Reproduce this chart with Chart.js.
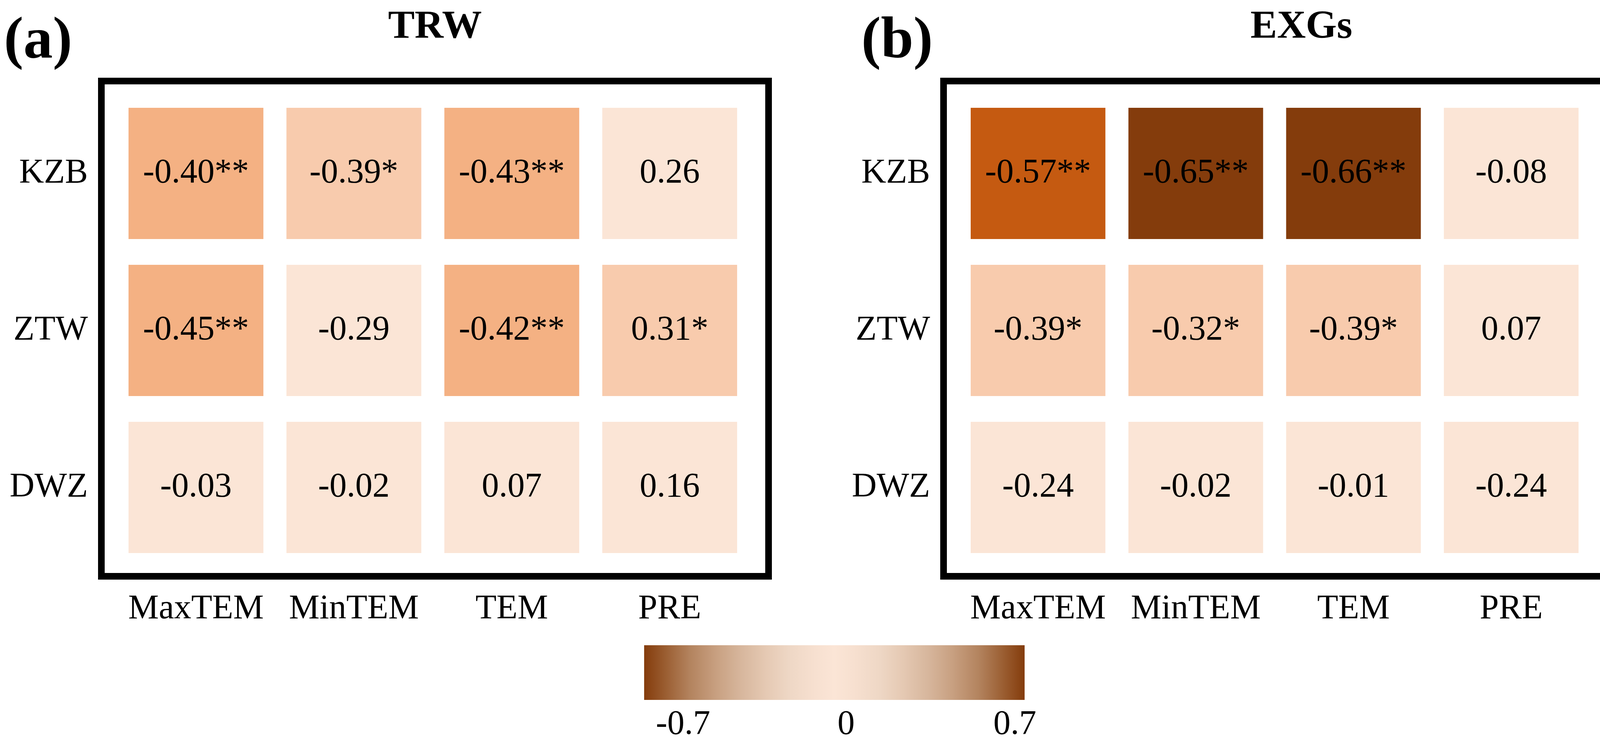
<!DOCTYPE html>
<html>
<head>
<meta charset="utf-8">
<title>TRW / EXGs climate correlations</title>
<script src="https://cdn.jsdelivr.net/npm/chart.js@4.4.1/dist/chart.umd.min.js"></script>
<style>
	html, body { margin: 0; padding: 0; background: #fff; }
	body { position: relative; width: 4148px; height: 1910px; overflow: hidden; }
	canvas { position: absolute; }
	#trwChart { left: 0; top: 0; }
	#exgChart { left: 2156px; top: 0; }
	#scaleBar { left: 1560px; top: 1600px; }
</style>
</head>
<body>
<canvas id="trwChart" width="2156" height="1640"></canvas>
<canvas id="exgChart" width="1992" height="1640"></canvas>
<canvas id="scaleBar" width="1160" height="310"></canvas>
<script>
// --- data ---
const climateVars = ['MaxTEM', 'MinTEM', 'TEM', 'PRE'];
const sites = ['KZB', 'ZTW', 'DWZ'];

// correlation coefficients (rows = sites, columns = climate variables)
const trwR = [
	[-0.40, -0.39, -0.43, 0.26],
	[-0.45, -0.29, -0.42, 0.31],
	[-0.03, -0.02, 0.07, 0.16]
];
const trwSig = [
	['**', '*', '**', ''],
	['**', '', '**', '*'],
	['', '', '', '']
];
const exgR = [
	[-0.57, -0.65, -0.66, -0.08],
	[-0.39, -0.32, -0.39, 0.07],
	[-0.24, -0.02, -0.01, -0.24]
];
const exgSig = [
	['**', '**', '**', ''],
	['*', '*', '*', ''],
	['', '', '', '']
];
const scaleTicks = [-0.7, 0, 0.7];

// --- styling ---
const SERIF = '"Liberation Serif", "Times New Roman", serif';
Chart.defaults.font.family = SERIF;
Chart.defaults.color = '#000';

const CELL_H = 0.836;   // cell height as a fraction of a row
const rampStops = [
	[0, '#843C0C'], [0.06, '#9C6034'], [0.12, '#B3835E'], [0.19, '#C8A081'],
	[0.25, '#D6B59B'], [0.32, '#E5C9B3'], [0.38, '#EED7C5'], [0.45, '#F7E0D0'],
	[0.5, '#FBE5D6'],
	[0.55, '#F7E0D0'], [0.62, '#EED7C5'], [0.68, '#E5C9B3'], [0.75, '#D6B59B'],
	[0.81, '#C8A081'], [0.88, '#B3835E'], [0.94, '#9C6034'], [1, '#843C0C']
];

// discrete shading classes by |r|
function cellColor(r) {
	const a = Math.abs(r);
	if (a >= 0.6) return '#843C0C';
	if (a >= 0.5) return '#C55A11';
	if (a >= 0.4) return '#F4B183';
	if (a >= 0.3) return '#F8CBAD';
	return '#FBE5D6';
}

function buildCells(r, sig) {
	const cells = [];
	sites.forEach((s, i) => {
		climateVars.forEach((c, j) => {
			cells.push({ x: j, y: [i - CELL_H / 2, i + CELL_H / 2], r: r[i][j], sig: sig[i][j] });
		});
	});
	return cells;
}

// frame, panel letter, title and the numbers inside the cells
const panelDecor = {
	id: 'panelDecor',
	afterDatasetsDraw(chart) {
		const ctx = chart.ctx;
		const cells = chart.data.datasets[0].data;
		ctx.save();
		ctx.font = '88px ' + SERIF;
		ctx.fillStyle = '#000';
		ctx.textAlign = 'center';
		ctx.textBaseline = 'middle';
		chart.getDatasetMeta(0).data.forEach((bar, k) => {
			const cell = cells[k];
			ctx.fillText(cell.r.toFixed(2) + cell.sig, bar.x, (bar.y + bar.base) / 2);
		});
		ctx.restore();
	},
	afterDraw(chart, args, opts) {
		const ctx = chart.ctx;
		const a = chart.chartArea;
		const w = opts.frameWidth;
		ctx.save();
		ctx.lineWidth = w;
		ctx.strokeStyle = '#000';
		ctx.strokeRect(a.left - w / 2, a.top - w / 2, a.right - a.left + w, a.bottom - a.top + w);

		ctx.fillStyle = '#000';
		ctx.textBaseline = 'alphabetic';
		ctx.font = 'bold 150px ' + SERIF;
		ctx.textAlign = 'left';
		ctx.fillText(opts.letter, opts.letterX, 147);

		ctx.font = 'bold 102px ' + SERIF;
		ctx.textAlign = 'center';
		ctx.fillText(opts.title, (a.left + a.right) / 2 + opts.titleShift, 97);
		ctx.restore();
	}
};

function makePanel(canvasId, r, sig, decor, padRight) {
	return new Chart(document.getElementById(canvasId), {
		type: 'bar',
		data: {
			datasets: [{
				data: buildCells(r, sig),
				backgroundColor: c => cellColor(c.raw.r),
				borderWidth: 0,
				barPercentage: 0.854,
				categoryPercentage: 1
			}]
		},
		options: {
			responsive: false,
			animation: false,
			layout: { padding: { left: 0, top: 216, right: padRight, bottom: 33 } },
			plugins: {
				legend: { display: false },
				tooltip: { enabled: false },
				panelDecor: Object.assign({ frameWidth: 17 }, decor)
			},
			scales: {
				x: {
					type: 'linear',
					offset: false,
					min: -0.578,
					max: 3.605,
					grid: { display: false, drawTicks: false },
					border: { display: false },
					afterBuildTicks: axis => { axis.ticks = climateVars.map((c, j) => ({ value: j })); },
					afterFit: axis => { axis.height = 140; },
					ticks: {
						autoSkip: false,
						maxRotation: 0,
						padding: 40,
						font: { size: 88 },
						callback: v => climateVars[v]
					}
				},
				y: {
					type: 'linear',
					offset: false,
					reverse: true,
					min: -0.567,
					max: 2.545,
					grid: { display: false, drawTicks: false },
					border: { display: false },
					afterBuildTicks: axis => { axis.ticks = sites.map((s, i) => ({ value: i })); },
					afterFit: axis => { axis.width = 268; },
					ticks: {
						padding: 43,
						font: { size: 88 },
						callback: v => sites[v]
					}
				}
			}
		},
		plugins: [panelDecor]
	});
}

makePanel('trwChart', trwR, trwSig, { letter: '(a)', letterX: 10, title: 'TRW', titleShift: 0 }, 197);
makePanel('exgChart', exgR, exgSig, { letter: '(b)', letterX: 49, title: 'EXGs', titleShift: 63 }, 35);

// --- colour scale ---
new Chart(document.getElementById('scaleBar'), {
	type: 'bar',
	data: {
		labels: [''],
		datasets: [{
			data: [[scaleTicks[0], scaleTicks[scaleTicks.length - 1]]],
			borderWidth: 0,
			barPercentage: 1,
			categoryPercentage: 1,
			backgroundColor(c) {
				const area = c.chart.chartArea;
				if (!area) return '#FBE5D6';
				const g = c.chart.ctx.createLinearGradient(area.left, 0, area.right, 0);
				rampStops.forEach(([t, col]) => g.addColorStop(t, col));
				return g;
			}
		}]
	},
	options: {
		indexAxis: 'y',
		responsive: false,
		animation: false,
		layout: { padding: { left: 89, right: 97, top: 52, bottom: 0 } },
		plugins: { legend: { display: false }, tooltip: { enabled: false } },
		scales: {
			y: { display: false },
			x: {
				type: 'linear',
				min: scaleTicks[0],
				max: scaleTicks[scaleTicks.length - 1],
				grid: { display: false, drawTicks: false },
				border: { display: false },
				afterBuildTicks: axis => { axis.ticks = scaleTicks.map(v => ({ value: v })); },
				afterFit: axis => { axis.height = 118; },
				ticks: {
					align: 'inner',
					labelOffset: 30,
					padding: 11,
					autoSkip: false,
					maxRotation: 0,
					font: { size: 88 },
					callback: v => String(v)
				}
			}
		}
	}
});
</script>
</body>
</html>
